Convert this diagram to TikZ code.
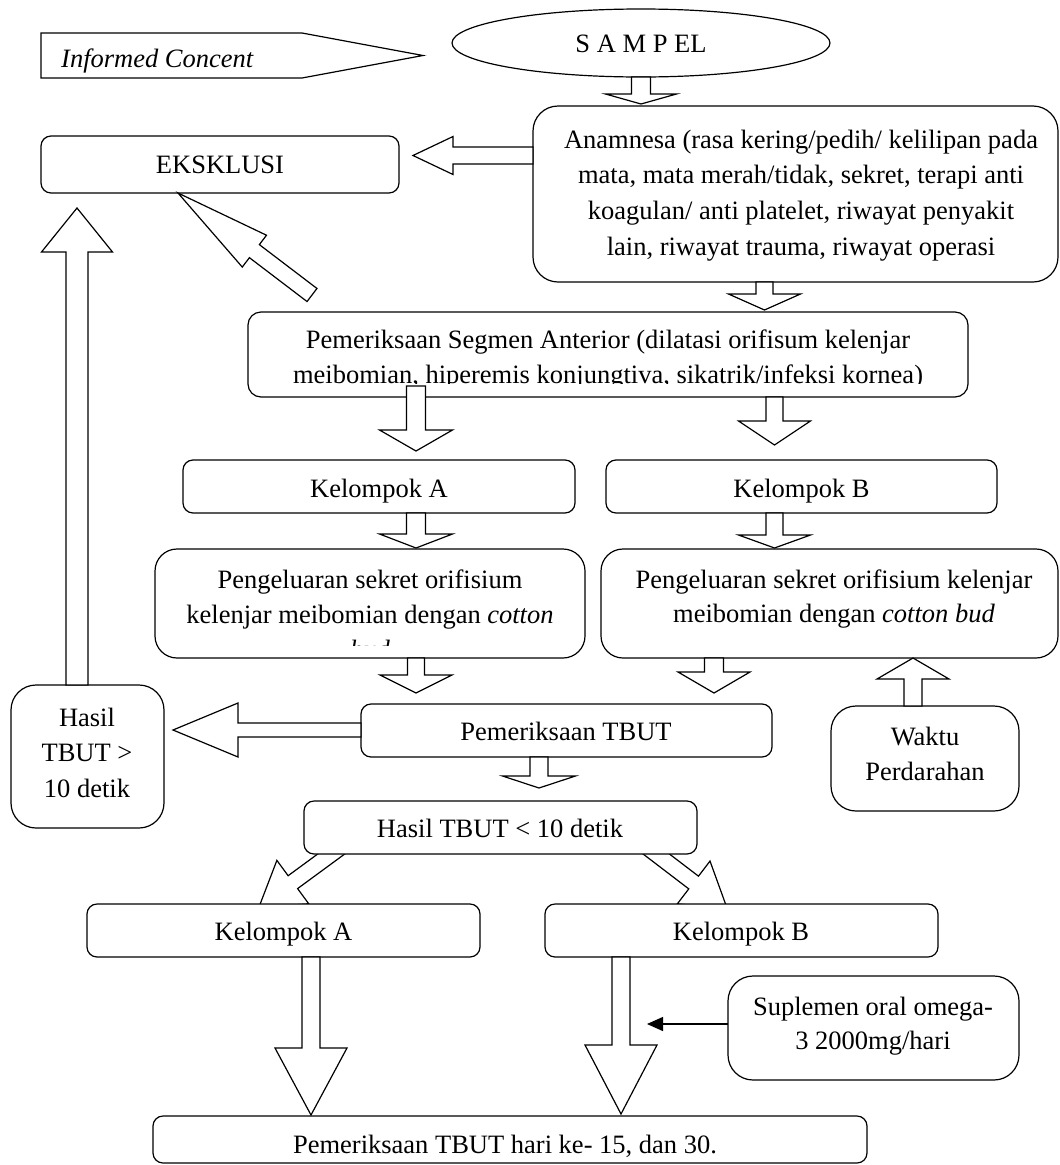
\documentclass[tikz,border=0pt]{standalone}
\usepackage{fontspec}
\setmainfont{Liberation Serif}
\usetikzlibrary{calc,shapes.geometric,arrows.meta}
\newcommand\fs{\fontsize{26.5pt}{35.5pt}\selectfont}
% block arrow: start, tip, shaft half width, head half width, head length
\newcommand\blockarrow[5]{%
  \coordinate (bah) at ($(#2)!#5!(#1)$);
  \draw[blk] ($(#1)!#3!90:(#2)$) -- ($(bah)!#3!90:(#2)$) -- ($(bah)!#4!90:(#2)$) -- (#2)
    -- ($(bah)!#4!-90:(#2)$) -- ($(bah)!#3!-90:(#2)$) -- ($(#1)!#3!-90:(#2)$) -- cycle;}
\begin{document}
\begin{tikzpicture}[x=1pt,y=-1pt,
  box/.style={draw, line width=1.2pt, fill=white, rounded corners=10pt, inner sep=0pt, outer sep=0pt},
  t/.style={anchor=base, inner sep=0pt, font=\fs},
  blk/.style={draw, fill=white, line width=1.2pt, line join=miter}]
\useasboundingbox (0,0) rectangle (1060,1165);

% arrow end points
\coordinate (a1s) at (641,77);    \coordinate (a1t) at (641,104);
\coordinate (a2s) at (533,155.5); \coordinate (a2t) at (413,155.5);
\coordinate (a3s) at (312,295);   \coordinate (a3t) at (178,193);
\coordinate (a4s) at (77,685);    \coordinate (a4t) at (77,208);
\coordinate (a5s) at (764.5,282); \coordinate (a5t) at (764.5,310);
\coordinate (a6s) at (416,386);   \coordinate (a6t) at (416,451);
\coordinate (a7s) at (774.5,397); \coordinate (a7t) at (774.5,445);
\coordinate (a8s) at (416,513);   \coordinate (a8t) at (416,548);
\coordinate (a9s) at (774.5,513); \coordinate (a9t) at (774.5,548);
\coordinate (a10s) at (416,658);  \coordinate (a10t) at (416,693);
\coordinate (a11s) at (714,658);  \coordinate (a11t) at (714,693);
\coordinate (a12s) at (913,706);  \coordinate (a12t) at (913,658);
\coordinate (a13s) at (361,730);  \coordinate (a13t) at (173,730);
\coordinate (a14s) at (539,757);  \coordinate (a14t) at (539,788);
\coordinate (a15s) at (347.7,841.9); \coordinate (a15t) at (259,907);
\coordinate (a16s) at (639.5,841.2); \coordinate (a16t) at (727,908);
\coordinate (a17s) at (311,957);  \coordinate (a17t) at (311,1115);
\coordinate (a18s) at (621,957);  \coordinate (a18t) at (621,1114);
\coordinate (supS) at (728,1024); \coordinate (supT) at (647,1024);

% diagonal arrows lying under the boxes
\blockarrow{a15s}{a15t}{8pt}{27pt}{42pt}
\blockarrow{a16s}{a16t}{8pt}{27pt}{42pt}

% pentagon and ellipse
\draw[line width=1.2pt, line join=miter] (41,33) -- (302,33) -- (423,55.5) -- (302,78) -- (41,78) -- cycle;
\node[ellipse, draw, line width=1.2pt, minimum width=378pt, minimum height=68pt, inner sep=0pt] (sampel) at (641,43) {};

% boxes
\node[box, minimum width=358pt, minimum height=57pt] (eks) at (220,164.5) {};
\node[box, rounded corners=25pt, minimum width=525pt, minimum height=176pt] (anam) at (795.5,194) {};
\node[box, rounded corners=13pt, minimum width=720pt, minimum height=85pt] (pem) at (608,354.5) {};
\node[box, minimum width=392pt, minimum height=53pt] (kelA1) at (379,486.5) {};
\node[box, minimum width=391pt, minimum height=53pt] (kelB1) at (801.5,486.5) {};
\node[box, rounded corners=22pt, minimum width=430pt, minimum height=109pt] (pengA) at (370,603.5) {};
\node[box, rounded corners=22pt, minimum width=457pt, minimum height=109pt] (pengB) at (829.5,603.5) {};
\node[box, minimum width=411pt, minimum height=53pt] (pemT) at (566.5,730.5) {};
\node[box, rounded corners=25pt, minimum width=153pt, minimum height=143pt] (hgt) at (87.5,756.5) {};
\node[box, minimum width=393pt, minimum height=53pt] (hlt) at (500.5,827.5) {};
\node[box, rounded corners=25pt, minimum width=188pt, minimum height=105pt] (waktu) at (925,758.5) {};
\node[box, minimum width=393pt, minimum height=53pt] (kelA2) at (283.5,930.5) {};
\node[box, minimum width=393pt, minimum height=53pt] (kelB2) at (741.5,930.5) {};
\node[box, rounded corners=25pt, minimum width=291pt, minimum height=104pt] (supl) at (873.5,1028) {};
\node[box, minimum width=714pt, minimum height=47pt] (fin) at (510,1139.5) {};

% texts
\node[t, anchor=base west] (infT) at (61,67) {\itshape Informed Concent};
\node[t] (sampelT) at (641,52) {S A M P EL};
\node[t] (eksT) at (220,173) {EKSKLUSI};
\node[t] (anamT1) at (801,148) {Anamnesa (rasa kering/pedih/ kelilipan pada};
\node[t] (anamT2) at (801,183.7) {mata, mata merah/tidak, sekret, terapi anti};
\node[t] (anamT3) at (801,219.4) {koagulan/ anti platelet, riwayat penyakit};
\node[t] (anamT4) at (801,255.1) {lain, riwayat trauma, riwayat operasi};
\begin{scope}
  \clip (248,312) rectangle (968,383);
  \node[t] (pemT1) at (608,348.3) {Pemeriksaan Segmen Anterior (dilatasi orifisum kelenjar};
  \node[t] (pemT2) at (608,383.8) {meibomian, hiperemis konjungtiva, sikatrik/infeksi kornea)};
\end{scope}
\node[t] (kelA1T) at (379,497) {Kelompok A};
\node[t] (kelB1T) at (801.5,497) {Kelompok B};
\begin{scope}
  \clip (155,549) rectangle (585,645);
  \node[t] (pengAT1) at (370,588) {Pengeluaran sekret orifisium};
  \node[t] (pengAT2) at (370,623) {kelenjar meibomian dengan \textit{cotton}};
  \node[t] (pengAT3) at (370,658) {\textit{bud}};
\end{scope}
\node[t] (pengBT1) at (834,588) {Pengeluaran sekret orifisium kelenjar};
\node[t] (pengBT2) at (834,622.5) {meibomian dengan \textit{cotton bud}};
\node[t] (pemTT) at (566,740) {Pemeriksaan TBUT};
\node[t] (hgtT1) at (87,726) {Hasil};
\node[t] (hgtT2) at (87,761.5) {TBUT >};
\node[t] (hgtT3) at (87,797) {10 detik};
\node[t] (hltT) at (500,837) {Hasil TBUT < 10 detik};
\node[t] (waktuT1) at (925,745) {Waktu};
\node[t] (waktuT2) at (925,780) {Perdarahan};
\node[t] (kelA2T) at (283.5,940) {Kelompok A};
\node[t] (kelB2T) at (741,940) {Kelompok B};
\node[t] (suplT1) at (873,1015) {Suplemen oral omega-};
\node[t] (suplT2) at (873,1049) {3 2000mg/hari};
\node[t] (finT) at (505,1153) {Pemeriksaan TBUT hari ke- 15, dan 30.};

% block arrows
\blockarrow{a1s}{a1t}{9.5pt}{35.5pt}{10pt}
\blockarrow{a2s}{a2t}{8.5pt}{19pt}{40pt}
\blockarrow{a3s}{a3t}{8.2pt}{20pt}{96pt}
\blockarrow{a4s}{a4t}{11pt}{35.5pt}{44pt}
\blockarrow{a5s}{a5t}{8.5pt}{36pt}{16pt}
\blockarrow{a6s}{a6t}{9.5pt}{36.5pt}{21pt}
\blockarrow{a7s}{a7t}{8.5pt}{36pt}{24pt}
\blockarrow{a8s}{a8t}{9.5pt}{36.5pt}{14pt}
\blockarrow{a9s}{a9t}{8.5pt}{36pt}{13pt}
\blockarrow{a10s}{a10t}{8.5pt}{36pt}{18pt}
\blockarrow{a11s}{a11t}{9.5pt}{36pt}{21pt}
\blockarrow{a12s}{a12t}{9pt}{36pt}{21pt}
\blockarrow{a13s}{a13t}{7pt}{27pt}{65pt}
\blockarrow{a14s}{a14t}{9pt}{36.5pt}{12pt}
\blockarrow{a17s}{a17t}{9pt}{36pt}{67pt}
\blockarrow{a18s}{a18t}{9pt}{36pt}{69pt}

% thin arrow
\draw[line width=1.3pt, -{Triangle[length=16pt,width=14pt]}] (supS) -- (supT);
\end{tikzpicture}
\end{document}
